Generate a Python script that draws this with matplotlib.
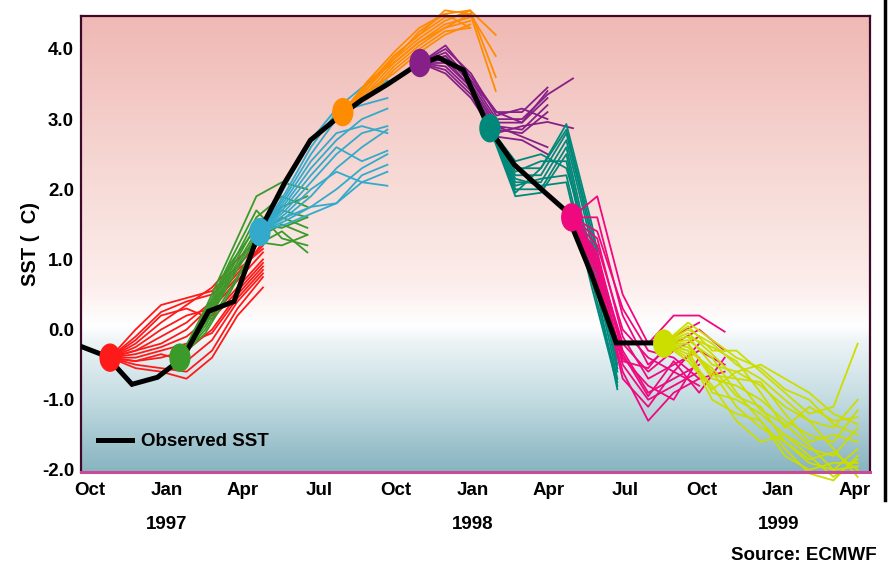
import numpy as np
import matplotlib
matplotlib.use("Agg")
import matplotlib.pyplot as plt
from matplotlib import font_manager
from matplotlib.lines import Line2D
from matplotlib.patches import Ellipse

# meses contados a partir de out/1996 (0 = inicio de outubro 1996)
obs_sst = [-0.24, -0.38, -0.78, -0.68, -0.40, 0.26, 0.40, 1.40, 2.10, 2.70, 3.00, 3.27,
           3.49, 3.73, 3.88, 3.70, 2.87, 2.35, 2.02, 1.70, 0.81, -0.19, -0.19, -0.19]

month_ticks = [0, 3, 6, 9, 12, 15, 18, 21, 24, 27, 30]
month_labels = ["Oct", "Jan", "Apr", "Jul", "Oct", "Jan", "Apr", "Jul", "Oct", "Jan", "Apr"]
year_ticks = [3, 15, 27]
year_labels = ["1997", "1998", "1999"]
y_ticks = [-2.0, -1.0, 0.0, 1.0, 2.0, 3.0, 4.0]

# inicio de cada previsao (mes) e passo entre pontos (mes)
plume_start = [1.14, 3.88, 7.02, 10.27, 13.3, 16.04, 19.25, 22.86]
plume_step = [1, 1, 1, 1, 1, 1, 1, 0.951]
plume_colors = ["#ff1a1a", "#3a9a2a", "#33aacc", "#ff8c00", "#862088", "#00897a", "#f0087f", "#ccdd00"]

red_members = [
    [-0.4, 0.0, 0.35, 0.45, 0.55, 0.9, 1.3],
    [-0.4, -0.2, 0.1, 0.35, 0.6, 1.0, 1.35],
    [-0.4, -0.3, -0.1, 0.1, 0.4, 0.8, 1.2],
    [-0.4, -0.35, -0.25, -0.1, 0.2, 0.6, 1.0],
    [-0.4, -0.45, -0.4, -0.3, 0.0, 0.5, 0.9],
    [-0.4, -0.5, -0.55, -0.6, -0.3, 0.3, 0.75],
    [-0.4, -0.25, 0.0, 0.2, 0.3, 0.7, 1.1],
    [-0.4, -0.4, -0.3, -0.2, -0.05, 0.45, 0.85],
    [-0.4, -0.55, -0.6, -0.7, -0.4, 0.2, 0.6],
    [-0.4, -0.3, -0.2, 0.0, 0.35, 0.75, 1.25],
    [-0.4, -0.15, 0.2, 0.3, 0.15, 0.55, 0.95],
    [-0.4, -0.45, -0.35, -0.45, -0.15, 0.4, 0.8],
    [-0.4, -0.1, 0.25, 0.4, 0.5, 0.85, 1.15],
]
green_members = [
    [-0.4, 0.3, 1.1, 1.9, 2.1, 2.0],
    [-0.4, 0.2, 0.9, 1.6, 1.9, 1.75],
    [-0.4, 0.1, 0.8, 1.4, 1.7, 1.6],
    [-0.4, 0.05, 0.7, 1.3, 1.5, 1.35],
    [-0.4, 0.0, 0.6, 1.2, 1.4, 1.1],
    [-0.4, 0.15, 0.85, 1.5, 1.45, 1.6],
    [-0.4, 0.25, 1.0, 1.7, 1.3, 1.2],
    [-0.4, 0.1, 0.75, 1.35, 1.6, 1.45],
    [-0.4, -0.05, 0.55, 1.25, 1.2, 1.35],
    [-0.4, 0.2, 0.95, 1.45, 1.75, 1.9],
]
cyan_members = [
    [1.39, 2.05, 2.7, 3.15, 3.45, 3.75],
    [1.39, 1.9, 2.5, 3.0, 3.3, 3.55],
    [1.39, 1.8, 2.3, 2.7, 3.0, 3.15],
    [1.39, 1.7, 2.1, 2.5, 2.8, 2.9],
    [1.39, 1.6, 1.9, 2.3, 2.6, 2.85],
    [1.39, 1.55, 1.75, 2.0, 2.3, 2.5],
    [1.39, 1.5, 1.65, 1.8, 2.2, 2.35],
    [1.39, 1.65, 2.0, 2.25, 2.1, 2.25],
    [1.39, 1.75, 2.2, 2.6, 2.4, 2.55],
    [1.39, 1.6, 1.75, 1.8, 2.1, 2.05],
    [1.39, 1.85, 2.4, 2.8, 2.9, 2.8],
    [1.39, 1.95, 2.6, 3.1, 3.2, 3.3],
]
orange_members = [
    [3.1, 3.55, 3.95, 4.3, 4.5, 4.55, 4.2],
    [3.1, 3.5, 3.9, 4.2, 4.45, 4.5, 3.4],
    [3.1, 3.45, 3.85, 4.15, 4.4, 4.55, 3.6],
    [3.1, 3.4, 3.8, 4.1, 4.35, 4.45],
    [3.1, 3.35, 3.75, 4.05, 4.3, 4.4],
    [3.1, 3.3, 3.7, 4.0, 4.25, 4.3],
    [3.1, 3.5, 3.85, 4.25, 4.5, 4.3],
    [3.1, 3.4, 3.65, 3.95, 4.2, 4.35],
    [3.1, 3.45, 3.9, 4.2, 4.55, 4.5],
    [3.1, 3.55, 3.8, 4.1, 4.3, 4.5, 3.9],
]
purple_members = [
    [3.8, 4.05, 3.6, 3.1, 3.1, 3.45],
    [3.8, 3.95, 3.55, 3.0, 3.0, 3.35, 3.58],
    [3.8, 3.9, 3.5, 2.95, 2.95, 3.3],
    [3.8, 3.85, 3.45, 2.9, 2.85, 3.2],
    [3.8, 3.75, 3.4, 2.85, 2.8, 3.1],
    [3.8, 3.7, 3.35, 2.8, 2.9, 2.96, 2.87],
    [3.8, 3.65, 3.3, 2.75, 2.7, 2.5],
    [3.8, 4.0, 3.65, 3.05, 3.15, 3.0],
    [3.8, 3.8, 3.45, 2.9, 2.75, 2.6],
    [3.8, 3.9, 3.55, 3.1, 2.95, 3.4],
]
teal_members = [
    [2.87, 2.3, 2.3, 2.93, 1.5, -0.3],
    [2.87, 2.2, 2.2, 2.8, 1.3, -0.5],
    [2.87, 2.1, 2.1, 2.7, 1.2, -0.6],
    [2.87, 2.0, 2.0, 2.6, 1.0, -0.7],
    [2.87, 1.9, 1.95, 2.5, 0.9, -0.85],
    [2.87, 2.25, 2.4, 2.4, 0.8, -0.4],
    [2.87, 2.4, 2.5, 2.3, 1.1, -0.55],
    [2.87, 2.05, 2.15, 2.2, 0.7, -0.75],
    [2.87, 1.95, 2.3, 2.85, 1.4, -0.2],
    [2.87, 2.15, 2.05, 2.1, 0.6, -0.8],
]
pink_members = [
    [1.6, 1.9, 0.5, -0.2, 0.2, 0.2, -0.03],
    [1.6, 1.6, 0.2, -0.5, -0.2, 0.0, -0.3],
    [1.6, 1.3, -0.1, -0.7, -0.5, -0.3, -0.5],
    [1.6, 1.1, -0.3, -0.9, -0.7, -0.5],
    [1.6, 0.9, -0.5, -1.0, -0.8, -0.6],
    [1.6, 0.8, -0.6, -1.3, -0.9, -0.7],
    [1.6, 1.0, -0.2, -0.6, -0.3, -0.1],
    [1.6, 0.7, -0.4, -0.8, -1.0, -0.4],
    [1.6, 1.2, 0.0, -0.4, -0.6, -0.2],
    [1.6, 0.95, -0.45, -0.55, -0.1, 0.1],
    [1.6, 1.4, 0.3, -0.3, -0.4, -0.7, -0.6],
    [1.6, 0.85, -0.7, -1.1, -0.6, -0.8],
    [1.6, 1.05, -0.35, -0.95, -0.45, -0.9, -0.4],
]
yellow_members = [
    [-0.2, 0.05, -0.3, -0.3, -0.6, -0.9, -1.2, -1.1, -0.2],
    [-0.2, -0.1, -0.5, -0.6, -0.8, -1.1, -1.3, -1.4, -1.0],
    [-0.2, -0.2, -0.7, -0.8, -1.0, -1.3, -1.5, -1.6, -1.15],
    [-0.2, -0.3, -0.9, -1.0, -1.2, -1.5, -1.7, -1.8, -1.4],
    [-0.2, -0.25, -0.6, -1.1, -1.4, -1.6, -1.9, -2.0, -1.7],
    [-0.2, -0.15, -0.4, -0.9, -1.3, -1.7, -2.05, -2.15, -1.8],
    [-0.2, -0.35, -1.0, -1.2, -1.3, -1.8, -2.0, -1.9, -1.9],
    [-0.2, 0.0, -0.2, -0.5, -0.7, -1.0, -1.3, -1.7, -2.1],
    [-0.2, -0.05, -0.35, -0.7, -0.75, -1.2, -1.6, -1.5, -1.6],
    [-0.2, -0.4, -0.8, -1.3, -1.6, -1.5, -1.8, -2.1, -1.85],
    [-0.2, -0.1, -0.25, -0.45, -0.9, -1.4, -1.1, -1.3, -1.25],
    [-0.2, -0.3, -0.55, -0.95, -1.1, -1.6, -1.85, -1.75, -2.0],
    [-0.2, 0.1, -0.15, -0.4, -0.55, -0.85, -1.0, -1.35, -1.5],
    [-0.2, -0.2, -0.65, -0.7, -1.15, -1.35, -1.65, -2.0, -1.95],
    [-0.2, -0.45, -0.85, -0.6, -0.5, -0.7, -0.9, -1.2, -1.35],
]
plumes = [red_members, green_members, cyan_members, orange_members,
          purple_members, teal_members, pink_members, yellow_members]

# fonte em negrito (estreita se existir)
nomes = {f.name for f in font_manager.fontManager.ttflist}
if "Liberation Sans Narrow" in nomes:
    fam, fs = "Liberation Sans Narrow", 16
else:
    fam, fs = "Liberation Sans", 13.5
plt.rcParams["font.family"] = [fam, "DejaVu Sans"]
plt.rcParams["font.weight"] = "bold"

fig = plt.figure(figsize=(8.88, 5.79), dpi=100)
ax = fig.add_axes([0.0912, 0.1848, 0.8885, 0.7876])
x0, x1 = 0, 30.95
y0, y1 = -2.03, 4.47
ax.set_xlim(x0, x1)
ax.set_ylim(y0, y1)

# fundo em degrade: rosa em cima, branco perto de 0, azul-acinzentado embaixo
vals = np.linspace(y1, y0, 400)
stops_v = [y0, -1.0, -0.2, 0.05, 0.6, 2.0, y1]
stops_c = np.array([[135, 180, 192], [195, 220, 226], [236, 243, 245], [255, 255, 255],
                    [252, 238, 236], [247, 220, 216], [240, 184, 180]]) / 255.0
grad = np.stack([np.interp(vals, stops_v, stops_c[:, i]) for i in range(3)], axis=-1)
ax.imshow(grad[:, None, :], extent=[x0, x1, y0, y1], aspect="auto", zorder=0)

# plumas de previsao
for members, start, step, cor in zip(plumes, plume_start, plume_step, plume_colors):
    for m in members:
        xs = start + step * np.arange(len(m))
        ax.plot(xs, m, color=cor, lw=1.3, zorder=2, clip_on=False)

# SST observada
ax.plot(np.arange(len(obs_sst)), obs_sst, color="black", lw=3.6, zorder=3,
        solid_joinstyle="miter")

# marcadores de inicio das previsoes
for members, start, cor in zip(plumes, plume_start, plume_colors):
    ax.add_patch(Ellipse((start, members[0][0]), 0.78, 0.385, color=cor, zorder=4))

ax.set_yticks(y_ticks)
ax.set_yticklabels([f"{v:.1f}" for v in y_ticks], fontsize=fs, fontweight="bold")
ax.set_xticks([t + 0.35 for t in month_ticks])
ax.set_xticklabels(month_labels, fontsize=fs, fontweight="bold")
ax.tick_params(length=0, pad=5)
ax.tick_params(axis="x", pad=7)
ax.set_ylabel("SST (  C)", fontsize=fs + 1, fontweight="bold", labelpad=1)

for t, lab in zip(year_ticks, year_labels):
    ax.text(t + 0.35, -0.115, lab, transform=ax.get_xaxis_transform(), ha="center",
            va="center", fontsize=fs, fontweight="bold")

for s in ax.spines.values():
    s.set_color("#3c0a28")
    s.set_linewidth(1.6)
ax.spines["bottom"].set_color("#c84a98")
ax.spines["bottom"].set_linewidth(2.2)

leg = ax.legend(handles=[Line2D([], [], color="black", lw=3.6)], labels=["Observed SST"],
                loc="lower left", bbox_to_anchor=(0.022, 0.048), frameon=False,
                handlelength=1.8, handletextpad=0.45, borderpad=0, borderaxespad=0,
                prop={"family": [fam, "DejaVu Sans"], "weight": "bold", "size": fs})

fig.text(877 / 888, 1 - 556 / 579, "Source: ECMWF", ha="right", va="center",
         fontsize=fs, fontweight="bold")

# barra preta na borda direita da imagem
fig.add_artist(Line2D([885 / 888, 885 / 888], [1, 1 - 500 / 579], color="black", lw=2.5,
                      transform=fig.transFigure))

fig.savefig("out.png", dpi=100)
